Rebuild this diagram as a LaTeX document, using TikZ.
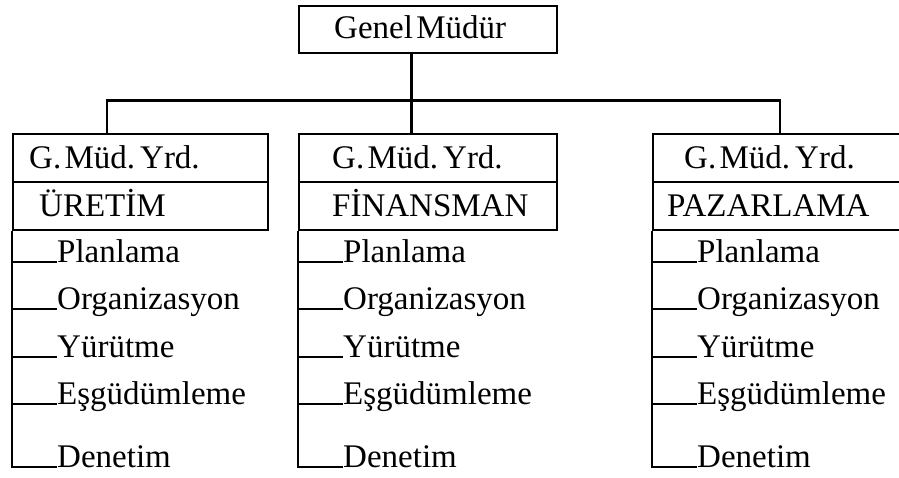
\documentclass[tikz,border=0pt]{standalone}
\usepackage{fontspec}
\setmainfont{Liberation Serif}
\usepackage{tikz}
\usetikzlibrary{calc}
\newcommand{\OrgText}[1]{{\fontsize{33}{37}\selectfont #1}}
\tikzset{
  orgbox/.style={draw,line width=2.4pt,anchor=north west,align=left,inner ysep=0pt,minimum height=48pt,text height=25pt,text depth=4pt},
  duty/.style={anchor=base west,inner sep=0pt},
  link/.style={line width=2.2pt}
}

\begin{document}
\begin{tikzpicture}[x=1pt,y=-1pt]
\useasboundingbox (0,0) rectangle (899,478);
\clip (0,0) rectangle (899,478);
% genel mudur
\node[orgbox,minimum height=47pt,text height=21pt,text depth=4pt,inner xsep=35pt,text width=188pt] (gm) at (298,5) {\OrgText{Genel Müdür}};
% yardimcilar
\node[orgbox,inner xsep=16pt,text width=223pt] (yrdU) at (12,133) {\OrgText{G. Müd. Yrd.}};
\node[orgbox,inner xsep=26pt,text width=203pt] (uret) at (12,181) {\OrgText{ÜRETİM}};
\node[orgbox,inner xsep=33pt,text width=192pt] (yrdF) at (298,133) {\OrgText{G. Müd. Yrd.}};
\node[orgbox,inner xsep=33pt,text width=192pt] (fin) at (298,181) {\OrgText{FİNANSMAN}};
\node[orgbox,inner xsep=31pt,text width=190pt] (yrdP) at (652,133) {\OrgText{G. Müd. Yrd.}};
\node[orgbox,inner xsep=14pt,text width=224pt] (paz) at (652,181) {\OrgText{PAZARLAMA}};
% bus
\coordinate (busL) at (107,100.5);
\coordinate (busM) at (411.5,100.5);
\coordinate (busR) at (780,100.5);
\draw[link] (gm.south -| busM) -- (busM |- yrdF.north);
\draw[link] (busL |- yrdU.north) -- (busL) -- (busR) -- (busR |- yrdP.north);
% uretim
\node[duty] (uP) at (57,262) {\OrgText{Planlama}};
\node[duty] (uO) at (57,309) {\OrgText{Organizasyon}};
\node[duty] (uY) at (57,357) {\OrgText{Yürütme}};
\node[duty] (uE) at (57,404) {\OrgText{Eşgüdümleme}};
\node[duty] (uD) at (57,467) {\OrgText{Denetim}};
\draw[link] (uret.south west) |- (uD.base west);
\draw[link] (uret.south west |- uP.base west) -- (uP.base west);
\draw[link] (uret.south west |- uO.base west) -- (uO.base west);
\draw[link] (uret.south west |- uY.base west) -- (uY.base west);
\draw[link] (uret.south west |- uE.base west) -- (uE.base west);
% finansman
\node[duty] (fP) at (343,262) {\OrgText{Planlama}};
\node[duty] (fO) at (343,309) {\OrgText{Organizasyon}};
\node[duty] (fY) at (343,357) {\OrgText{Yürütme}};
\node[duty] (fE) at (343,404) {\OrgText{Eşgüdümleme}};
\node[duty] (fD) at (343,467) {\OrgText{Denetim}};
\draw[link] (fin.south west) |- (fD.base west);
\draw[link] (fin.south west |- fP.base west) -- (fP.base west);
\draw[link] (fin.south west |- fO.base west) -- (fO.base west);
\draw[link] (fin.south west |- fY.base west) -- (fY.base west);
\draw[link] (fin.south west |- fE.base west) -- (fE.base west);
% pazarlama
\node[duty] (pP) at (697,262) {\OrgText{Planlama}};
\node[duty] (pO) at (697,309) {\OrgText{Organizasyon}};
\node[duty] (pY) at (697,357) {\OrgText{Yürütme}};
\node[duty] (pE) at (697,404) {\OrgText{Eşgüdümleme}};
\node[duty] (pD) at (697,467) {\OrgText{Denetim}};
\draw[link] (paz.south west) |- (pD.base west);
\draw[link] (paz.south west |- pP.base west) -- (pP.base west);
\draw[link] (paz.south west |- pO.base west) -- (pO.base west);
\draw[link] (paz.south west |- pY.base west) -- (pY.base west);
\draw[link] (paz.south west |- pE.base west) -- (pE.base west);
\end{tikzpicture}
\end{document}
